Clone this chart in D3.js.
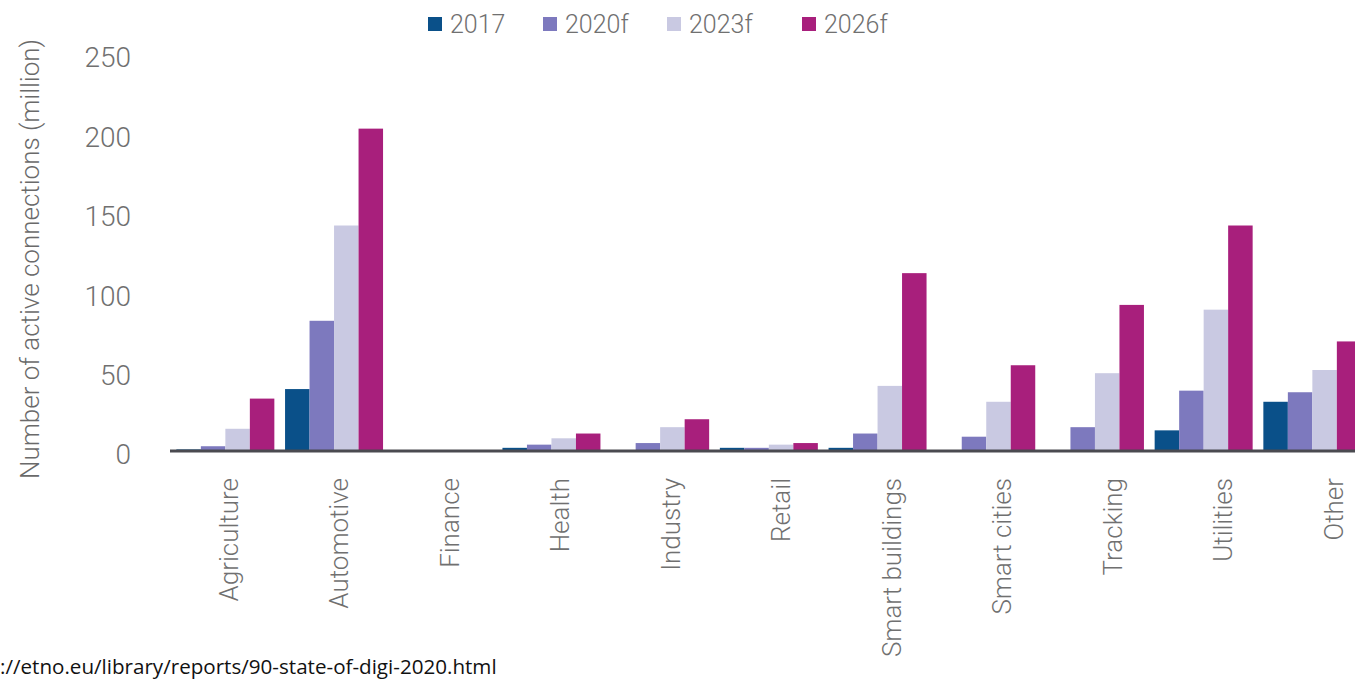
<!DOCTYPE html>
<html>
<head>
<meta charset="utf-8">
<script src="https://cdn.jsdelivr.net/npm/d3@7"></script>
<style>
  html, body { margin: 0; padding: 0; background: #fff; overflow: hidden; }
  svg { display: block; }
</style>
</head>
<body>
<svg id="chart" width="1355" height="681"></svg>
<script>
const categories = ["Agriculture", "Automotive", "Finance", "Health", "Industry", "Retail",
  "Smart buildings", "Smart cities", "Tracking", "Utilities", "Other"];
const seriesNames = ["2017", "2020f", "2023f", "2026f"];
const values2017  = [1, 39, 0, 2, 0, 2, 2, 0, 0, 13, 31];
const values2020f = [3, 82, 0, 4, 5, 2, 11, 9, 15, 38, 37];
const values2023f = [14, 142, 0, 8, 15, 4, 41, 31, 49, 89, 51];
const values2026f = [33, 203, 0, 11, 20, 5, 112, 54, 92, 142, 69];
const yTicks = [0, 50, 100, 150, 200, 250];
const colors = ["#0a5089", "#7d79be", "#c9c9e2", "#a81f7c"];
const yTitle = "Number of active connections (million)";
const sourceText = "://etno.eu/library/reports/90-state-of-digi-2020.html";

const series = [values2017, values2020f, values2023f, values2026f];
const svg = d3.select("#chart");

const step = 108.7;
const pad = 0.0985;
const x0 = d3.scaleBand().domain(categories)
  .range([171, 171 + step * categories.length])
  .paddingInner(pad).paddingOuter(pad / 2);
const x1 = d3.scaleBand().domain(seriesNames).range([0, x0.bandwidth()]).padding(0);
const xLabel = d3.scalePoint().domain(categories).range([228, 1333]);
const y = d3.scaleLinear().domain([0, 250]).range([451, 54]);

const font = "'Roboto Light', Roboto, sans-serif";

// bars
categories.forEach((c, i) => {
  const g = svg.append("g").attr("transform", `translate(${x0(c)},0)`);
  seriesNames.forEach((s, j) => {
    const v = series[j][i];
    g.append("rect")
      .attr("x", x1(s))
      .attr("width", x1.bandwidth())
      .attr("y", y(v))
      .attr("height", y(0) - y(v))
      .attr("fill", colors[j]);
  });
});

// baseline
svg.append("line")
  .attr("x1", 170).attr("x2", 1355)
  .attr("y1", y(0)).attr("y2", y(0))
  .attr("stroke", "#4a4a50").attr("stroke-width", 3);

// y axis labels
const yAxis = d3.axisLeft(y).tickValues(yTicks).tickSize(0).tickPadding(0);
const yg = svg.append("g").attr("transform", "translate(131,4)").call(yAxis);
yg.select(".domain").remove();
yg.selectAll("text")
  .attr("font-family", font).attr("font-weight", 300)
  .attr("font-size", 28).attr("fill", "#707070");

// y title
svg.append("text")
  .attr("transform", "translate(39,259) rotate(-90)")
  .attr("text-anchor", "middle")
  .attr("font-family", font).attr("font-weight", 300)
  .attr("font-size", 26).attr("fill", "#6a6a6a")
  .text(yTitle);

// category labels
const xAxis = d3.axisBottom(xLabel).tickSize(0).tickPadding(0);
const xg = svg.append("g").attr("transform", `translate(0,${y(0)})`).call(xAxis);
xg.select(".domain").remove();
xg.selectAll("text")
  .attr("font-family", font).attr("font-weight", 300)
  .attr("font-size", 26).attr("fill", "#707070")
  .attr("text-anchor", "end")
  .attr("dy", "0.35em")
  .attr("transform", "translate(0,27) rotate(-90)")
  .attr("x", 0).attr("y", 0);

// legend
const legendX = [428, 543, 667, 802];
seriesNames.forEach((s, j) => {
  const lg = svg.append("g").attr("transform", `translate(${legendX[j]},0)`);
  lg.append("rect").attr("x", 0).attr("y", 17).attr("width", 14).attr("height", 14)
    .attr("fill", colors[j]);
  lg.append("text").attr("x", 22).attr("y", 24).attr("dy", "0.35em")
    .attr("font-family", font).attr("font-weight", 300)
    .attr("font-size", 25).attr("fill", "#707070")
    .text(s);
});

// source
svg.append("text")
  .attr("x", 0).attr("y", 674)
  .attr("text-anchor", "start")
  .attr("font-family", "'Open Sans', 'Liberation Sans', sans-serif")
  .attr("font-size", 20.6).attr("fill", "#111")
  .text(sourceText);
</script>
</body>
</html>
